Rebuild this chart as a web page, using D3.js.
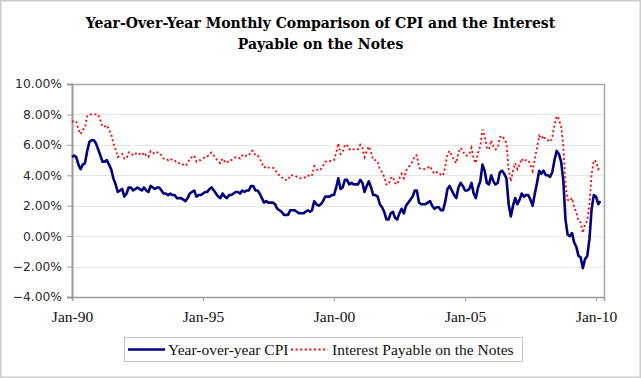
<!DOCTYPE html>
<html><head><meta charset="utf-8">
<script src="https://cdn.jsdelivr.net/npm/d3@7"></script>
<style>
html,body{margin:0;padding:0;background:#fff;}
svg{display:block;}
</style>
</head><body>
<div id="chart"></div>
<script>
// ---- Data (monthly, Jan 1990 .. Mar 2010) ----
const startYear = 1990;
const titleLines = ["Year-Over-Year Monthly Comparison of CPI and the Interest", "Payable on the Notes"];
const seriesNames = ["Year-over-year CPI", "Interest Payable on the Notes"];
const yTicks = [-4, -2, 0, 2, 4, 6, 8, 10];
const xTickYears = [1990, 1995, 2000, 2005, 2010];

const cpi = [
  5.2, 5.3, 5.2, 4.7, 4.4, 4.7, 4.8, 5.6, 6.2, 6.3, 6.3, 6.1,   // 1990
  5.7, 5.3, 4.9, 4.9, 5.0, 4.7, 4.4, 3.8, 3.4, 2.9, 3.0, 3.1,   // 1991
  2.6, 2.8, 3.2, 3.2, 3.0, 3.1, 3.2, 3.1, 3.0, 3.2, 3.0, 2.9,   // 1992
  3.3, 3.2, 3.1, 3.2, 3.2, 3.0, 2.8, 2.8, 2.7, 2.8, 2.7, 2.7,   // 1993
  2.5, 2.5, 2.5, 2.4, 2.3, 2.5, 2.8, 2.9, 3.0, 2.6, 2.7, 2.7,   // 1994
  2.8, 2.9, 2.9, 3.1, 3.2, 3.0, 2.8, 2.6, 2.5, 2.8, 2.6, 2.5,   // 1995
  2.7, 2.7, 2.8, 2.9, 2.9, 2.8, 3.0, 2.9, 3.0, 3.0, 3.3, 3.3,   // 1996
  3.0, 3.0, 2.8, 2.5, 2.2, 2.3, 2.2, 2.2, 2.2, 2.1, 1.8, 1.7,   // 1997
  1.6, 1.4, 1.4, 1.4, 1.7, 1.7, 1.7, 1.6, 1.5, 1.5, 1.5, 1.6,   // 1998
  1.7, 1.6, 1.7, 2.3, 2.1, 2.0, 2.1, 2.3, 2.6, 2.6, 2.6, 2.7,   // 1999
  2.7, 3.2, 3.8, 3.1, 3.2, 3.7, 3.7, 3.4, 3.5, 3.4, 3.4, 3.4,   // 2000
  3.7, 3.5, 2.9, 3.3, 3.6, 3.2, 2.7, 2.7, 2.6, 2.1, 1.9, 1.6,   // 2001
  1.1, 1.1, 1.5, 1.6, 1.2, 1.1, 1.5, 1.8, 1.5, 2.0, 2.2, 2.4,   // 2002
  2.6, 3.0, 3.0, 2.2, 2.1, 2.1, 2.1, 2.2, 2.3, 2.0, 1.8, 1.9,   // 2003
  1.9, 1.7, 1.7, 2.3, 3.1, 3.3, 3.0, 2.7, 2.5, 3.2, 3.5, 3.3,   // 2004
  3.0, 3.0, 3.1, 3.5, 2.8, 2.5, 3.2, 3.6, 4.7, 4.3, 3.5, 3.4,   // 2005
  4.0, 3.6, 3.4, 3.5, 4.2, 4.3, 4.1, 3.8, 2.1, 1.3, 2.0, 2.5,   // 2006
  2.1, 2.4, 2.8, 2.6, 2.7, 2.7, 2.4, 2.0, 2.8, 3.5, 4.3, 4.1,   // 2007
  4.3, 4.0, 4.0, 3.9, 4.2, 5.0, 5.6, 5.4, 4.9, 3.7, 1.1, 0.1,   // 2008
  0.0, 0.2, -0.4, -0.7, -1.3, -1.4, -2.1, -1.5, -1.3, -0.2, 1.8, 2.7, // 2009
  2.6, 2.1, 2.3                                                 // 2010
];

const interest = [
  7.5, 7.6, 7.5, 7.0, 6.7, 7.0, 7.1, 7.9, 8.0, 8.0, 8.0, 8.0,   // 1990
  8.0, 7.6, 7.2, 7.2, 7.3, 7.0, 6.7, 6.1, 5.7, 5.2, 5.3, 5.4,   // 1991
  5.1, 5.1, 5.5, 5.5, 5.3, 5.4, 5.5, 5.4, 5.3, 5.5, 5.3, 5.2,   // 1992
  5.6, 5.5, 5.4, 5.5, 5.5, 5.3, 5.1, 5.1, 5.0, 5.1, 5.0, 5.0,   // 1993
  4.8, 4.8, 4.8, 4.7, 4.6, 4.8, 5.1, 5.2, 5.3, 4.9, 5.0, 5.0,   // 1994
  5.1, 5.2, 5.2, 5.4, 5.5, 5.3, 5.1, 4.9, 4.8, 5.1, 4.9, 4.8,   // 1995
  5.0, 5.0, 5.1, 5.2, 5.2, 5.1, 5.3, 5.2, 5.3, 5.3, 5.6, 5.6,   // 1996
  5.3, 5.3, 5.1, 4.8, 4.5, 4.6, 4.5, 4.5, 4.5, 4.4, 4.1, 4.0,   // 1997
  3.9, 3.7, 3.7, 3.7, 4.0, 4.0, 4.0, 3.9, 3.8, 3.8, 3.8, 3.9,   // 1998
  4.0, 3.9, 4.0, 4.6, 4.4, 4.3, 4.4, 4.6, 4.9, 4.9, 4.9, 5.0,   // 1999
  5.0, 5.5, 6.1, 5.4, 5.5, 6.0, 6.0, 5.7, 5.8, 5.7, 5.7, 5.7,   // 2000
  6.0, 5.8, 5.2, 5.6, 5.9, 5.5, 5.0, 5.0, 4.9, 4.4, 4.2, 3.9,   // 2001
  3.4, 3.4, 3.8, 3.9, 3.5, 3.4, 3.8, 4.1, 3.8, 4.3, 4.5, 4.7,   // 2002
  4.9, 5.3, 5.3, 4.5, 4.4, 4.4, 4.4, 4.5, 4.6, 4.3, 4.1, 4.2,   // 2003
  4.2, 4.0, 4.0, 4.6, 5.4, 5.6, 5.3, 5.0, 4.8, 5.5, 5.8, 5.6,   // 2004
  5.3, 5.3, 5.4, 5.8, 5.1, 4.8, 5.5, 5.9, 7.0, 6.6, 5.8, 5.7,   // 2005
  6.3, 5.9, 5.7, 5.8, 6.5, 6.6, 6.4, 6.1, 4.4, 3.6, 4.3, 4.8,   // 2006
  4.4, 4.7, 5.1, 4.9, 5.0, 5.0, 4.7, 4.3, 5.1, 5.8, 6.6, 6.4,   // 2007
  6.6, 6.3, 6.3, 6.2, 6.5, 7.3, 7.9, 7.7, 7.2, 6.0, 3.4, 2.4,   // 2008
  2.3, 2.5, 1.9, 1.6, 1.0, 0.9, 0.2, 0.8, 1.0, 2.1, 4.1, 5.0,   // 2009
  4.9, 4.4, 4.6                                                 // 2010
];

// ---- Layout ----
const W = 641, H = 378;
const plot = {left: 72, right: 604, top: 84, bottom: 297};

const monthDate = i => new Date(startYear, i, 1);

const svg = d3.select("#chart").append("svg")
  .attr("width", W).attr("height", H);

svg.append("rect").attr("x", 0).attr("y", 0).attr("width", W).attr("height", H).attr("fill", "#fff");
svg.append("rect").attr("x", 0.75).attr("y", 0.75).attr("width", W - 1.5).attr("height", H - 1.5)
  .attr("fill", "none").attr("stroke", "#cccccc").attr("stroke-width", 1.5);

const x = d3.scaleTime()
  .domain([new Date(1990, 0, 1), new Date(2010, 3, 22)])
  .range([plot.left, plot.right]);
const y = d3.scaleLinear().domain([-4, 10]).range([plot.bottom, plot.top]);

// gridlines
svg.append("g").selectAll("line").data(yTicks).join("line")
  .attr("x1", plot.left).attr("x2", plot.right)
  .attr("y1", d => Math.round(y(d)) + 0.5).attr("y2", d => Math.round(y(d)) + 0.5)
  .attr("stroke", "#e6e6e6").attr("stroke-width", 1);

// plot border (top & right)
svg.append("path")
  .attr("d", `M${plot.left},${Math.round(plot.top)+0.5}H${plot.right+0.5}V${plot.bottom}`)
  .attr("fill", "none").attr("stroke", "#a8a8a8").attr("stroke-width", 1.5);

// y axis
const yAxis = svg.append("g").attr("transform", `translate(${plot.left},0)`)
  .call(d3.axisLeft(y).tickValues(yTicks).tickSize(5).tickPadding(5)
    .tickFormat(d => d3.format(".2f")(d) + "%"));
yAxis.select(".domain").attr("stroke", "#9a9a9a").attr("stroke-width", 2);
yAxis.selectAll(".tick line").attr("stroke", "#9a9a9a");
yAxis.selectAll("text").attr("font-family", "DejaVu Sans, Verdana, sans-serif")
  .attr("font-size", "12.3px").attr("fill", "#2a2a2a");

// x axis
const xAxis = svg.append("g").attr("transform", `translate(0,${plot.bottom})`)
  .call(d3.axisBottom(x).tickValues(xTickYears.map(yr => new Date(yr, 0, 1)))
    .tickSize(4).tickPadding(10).tickFormat(d3.timeFormat("%b-%y")));
xAxis.select(".domain").attr("stroke", "#9a9a9a").attr("stroke-width", 1.5);
xAxis.selectAll(".tick line").attr("stroke", "#9a9a9a");
xAxis.selectAll("text").attr("font-family", "Liberation Serif, Times New Roman, serif")
  .attr("font-size", "15.5px").attr("fill", "#111");

// lines
const line = d3.line().x((d, i) => x(monthDate(i))).y(d => y(d));

svg.append("path").datum(cpi).attr("d", line)
  .attr("fill", "none").attr("stroke", "#000080").attr("stroke-width", 2.6)
  .attr("stroke-linejoin", "round");

svg.append("path").datum(interest).attr("d", line)
  .attr("fill", "none").attr("stroke", "#ff0000").attr("stroke-width", 1.8)
  .attr("stroke-dasharray", "2,2.6");

// title
const title = svg.append("g");
const tl = title.selectAll("text").data(titleLines).join("text")
  .attr("x", 320.5).attr("y", (d, i) => i === 0 ? 27.5 : 49)
  .attr("text-anchor", "middle")
  .attr("font-family", "DejaVu Serif, serif").attr("font-weight", "bold")
  .attr("font-size", "14px").attr("fill", "#000")
  .text(d => d);
const w0 = tl.nodes()[0].getComputedTextLength();
const fs = 14 * 470 / w0;
tl.attr("font-size", fs + "px");

// legend
const lg = svg.append("g");
lg.append("rect").attr("x", 124.5).attr("y", 337.5).attr("width", 398).attr("height", 24)
  .attr("fill", "#fff").attr("stroke", "#c4c4c4").attr("stroke-width", 1);
lg.append("line").attr("x1", 128).attr("x2", 165).attr("y1", 349.5).attr("y2", 349.5)
  .attr("stroke", "#000080").attr("stroke-width", 2.6);
lg.append("line").attr("x1", 291).attr("x2", 328).attr("y1", 349.5).attr("y2", 349.5)
  .attr("stroke", "#ff0000").attr("stroke-width", 1.8).attr("stroke-dasharray", "2,2.6");
lg.selectAll("text").data(seriesNames).join("text")
  .attr("x", (d, i) => i === 0 ? 168 : 332).attr("y", 354.5)
  .attr("font-family", "Liberation Serif, Times New Roman, serif")
  .attr("font-size", "15.5px").attr("fill", "#111")
  .text(d => d);
</script>
</body></html>
